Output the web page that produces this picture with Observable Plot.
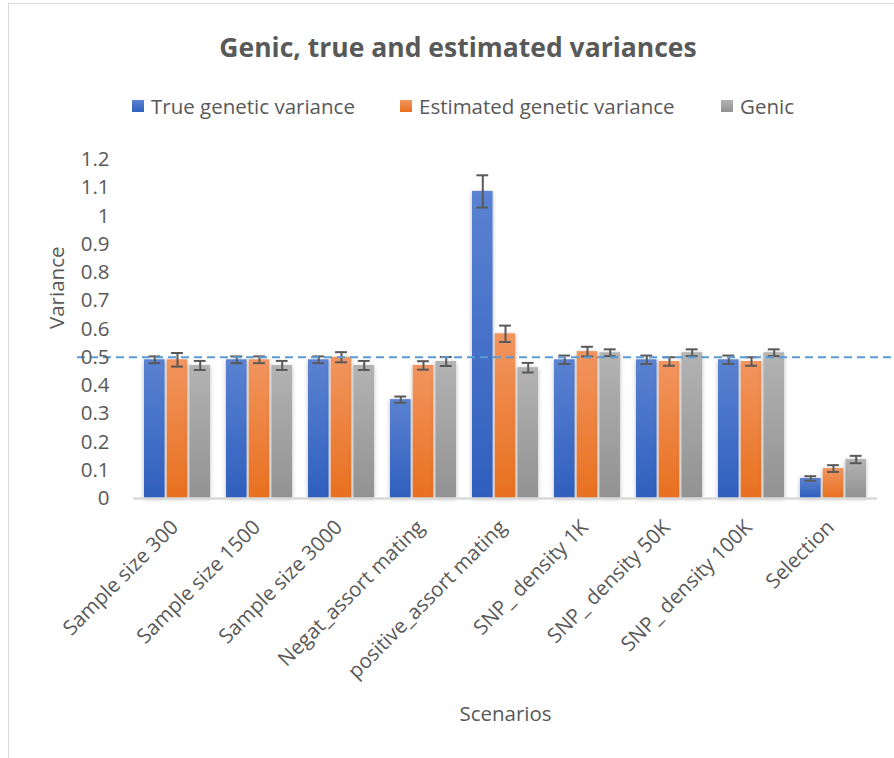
<!DOCTYPE html>
<html><head><meta charset="utf-8">
<script src="https://cdn.jsdelivr.net/npm/d3@7"></script>
<script src="https://cdn.jsdelivr.net/npm/@observablehq/plot@0.6"></script>
<style>
body{margin:0;background:#fff;font-family:"Open Sans",sans-serif;color:#595959;}
#wrap{position:relative;width:894px;height:758px;overflow:hidden;background:#fff;}
#frame{position:absolute;left:8px;top:3px;width:900px;height:800px;border-left:1px solid #d9d9d9;border-top:1px solid #d9d9d9;}
#title{position:absolute;left:0;width:916px;top:27px;text-align:center;font-weight:bold;font-size:26.5px;line-height:40px;}
.item{position:absolute;top:92px;font-size:20.5px;line-height:28px;display:flex;align-items:center;white-space:nowrap;}
.sw{display:inline-block;width:12px;height:12px;margin-right:7px;}
#chart{position:absolute;left:0;top:135px;}
</style></head>
<body>
<div id="wrap">
<div id="frame"></div>
<div id="title">Genic, true and estimated variances</div>
<div class="item" style="left:132px"><span class="sw" style="background:linear-gradient(#5b82d2,#2f5fbd)"></span>True genetic variance</div>
<div class="item" style="left:400px"><span class="sw" style="background:linear-gradient(#f2955f,#e8701f)"></span>Estimated genetic variance</div>
<div class="item" style="left:721px"><span class="sw" style="background:linear-gradient(#b3b3b3,#929292)"></span>Genic</div>
<div id="chart"></div>
</div>
<script>
const categories = ["Sample size 300","Sample size 1500","Sample size 3000","Negat_assort mating","positive_assort mating","SNP_ density 1K","SNP_ density 50K","SNP_ density 100K","Selection"];
const seriesNames = ["True genetic variance","Estimated genetic variance","Genic"];
const trueVar = [0.491,0.491,0.491,0.350,1.087,0.491,0.491,0.491,0.071];
const trueErr = [0.012,0.012,0.012,0.011,0.057,0.015,0.015,0.015,0.008];
const estVar  = [0.491,0.491,0.500,0.471,0.583,0.520,0.485,0.485,0.106];
const estErr  = [0.024,0.012,0.018,0.015,0.029,0.017,0.015,0.015,0.012];
const genicVar = [0.471,0.471,0.471,0.485,0.463,0.516,0.516,0.516,0.138];
const genicErr = [0.016,0.016,0.016,0.016,0.017,0.012,0.012,0.012,0.013];
const referenceLine = [0.5];
const yTicks = [0,0.1,0.2,0.3,0.4,0.5,0.6,0.7,0.8,0.9,1,1.1,1.2];

const gradIds = ["gBlue","gOrange","gGray"];
const gradStops = [["#5b82d2","#2f5fbd"],["#f2955f","#e8701f"],["#b3b3b3","#929292"]];

const FONT = "'Open Sans', sans-serif";
const FS = 20.5;
const W = 894, H = 623, ML = 133, MR = 17, MT = 24, MB = 260;
const bandW = (W - ML - MR) / categories.length * 0.8;
const barW = (bandW - 4) / 3;

const rows = (vals, errs, s) => categories.map((c, i) => ({cat: c, v: vals[i], lo: vals[i] - errs[i], hi: vals[i] + errs[i], s}));
const data = [rows(trueVar, trueErr, 0), rows(estVar, estErr, 1), rows(genicVar, genicErr, 2)];

const marks = [];
data.forEach((rs, s) => {
  const left = s * (barW + 2);
  const right = bandW - left - barW;
  marks.push(Plot.barY(rs, {x: "cat", y: "v", fill: `url(#${gradIds[s]})`, insetLeft: left, insetRight: right}));
});
marks.push(Plot.ruleY([0], {stroke: "#d9d9d9", strokeWidth: 2.5}));
data.forEach((rs, s) => {
  const center = s * (barW + 2) + barW / 2;
  const dx = center - bandW / 2;
  marks.push(Plot.ruleX(rs, {x: "cat", y1: "lo", y2: "hi", dx, stroke: "#595959", strokeWidth: 2}));
  marks.push(Plot.tickY(rs, {x: "cat", y: "lo", insetLeft: center - 6, insetRight: bandW - center - 6, stroke: "#595959", strokeWidth: 2}));
  marks.push(Plot.tickY(rs, {x: "cat", y: "hi", insetLeft: center - 6, insetRight: bandW - center - 6, stroke: "#595959", strokeWidth: 2}));
});
marks.push(Plot.ruleY(referenceLine, {stroke: "#5b9bd5", strokeWidth: 2, strokeDasharray: "8,5", insetLeft: -56, insetRight: -17}));
marks.push(Plot.axisY({ticks: yTicks, tickSize: 0, tickPadding: 24, tickFormat: d => String(+d.toFixed(1)), fontSize: FS, label: null}));
marks.push(Plot.text(categories, {x: d => d, frameAnchor: "bottom", rotate: -45, textAnchor: "end", dx: 2, dy: 30, fontSize: FS, fill: "#595959"}));
marks.push(Plot.text(["Variance"], {frameAnchor: "left", rotate: -90, dx: -76, fontSize: FS, fill: "#595959"}));
marks.push(Plot.text(["Scenarios"], {frameAnchor: "bottom", dy: 222, fontSize: FS, fill: "#595959"}));

const chart = Plot.plot({
  width: W, height: H,
  marginLeft: ML, marginRight: MR, marginTop: MT, marginBottom: MB,
  style: {fontFamily: FONT, color: "#595959", background: "transparent", overflow: "visible"},
  x: {domain: categories, paddingInner: 0.2, paddingOuter: 0.1, axis: null},
  y: {domain: [0, 1.2], axis: null},
  marks
});

const svg = d3.select(chart);
const defs = svg.insert("defs", ":first-child");
gradIds.forEach((id, i) => {
  const g = defs.append("linearGradient").attr("id", id).attr("x1", 0).attr("y1", 0).attr("x2", 0).attr("y2", 1);
  g.append("stop").attr("offset", "0%").attr("stop-color", gradStops[i][0]);
  g.append("stop").attr("offset", "100%").attr("stop-color", gradStops[i][1]);
});
const f = defs.append("filter").attr("id", "shadow").attr("x", "-30%").attr("y", "-10%").attr("width", "160%").attr("height", "120%");
f.append("feDropShadow").attr("dx", 0).attr("dy", 1).attr("stdDeviation", 2.2).attr("flood-color", "#000").attr("flood-opacity", 0.28);
svg.selectAll("g[aria-label='bar']").attr("filter", "url(#shadow)");

document.getElementById("chart").appendChild(chart);
</script>
</body></html>
